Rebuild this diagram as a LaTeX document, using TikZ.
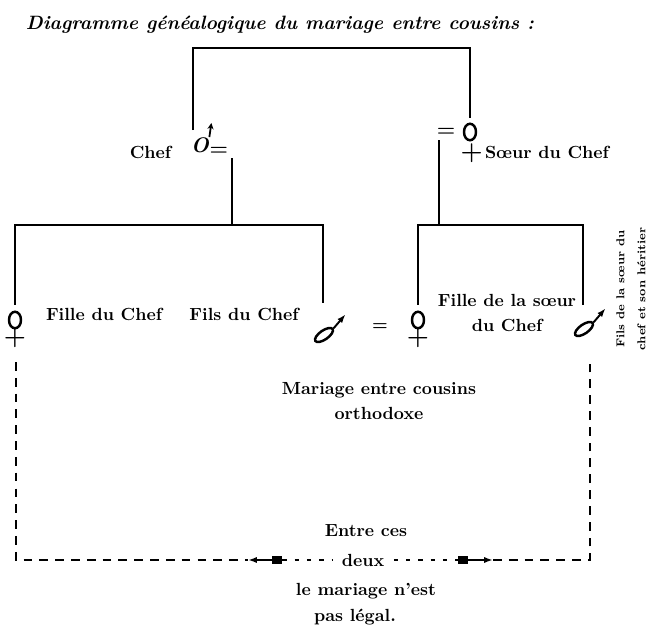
\documentclass[tikz,border=0pt]{standalone}
\usetikzlibrary{arrows.meta, positioning, shapes.geometric}

\begin{document}
\begin{tikzpicture}[
    x=0.02cm, y=-0.02cm,
    lbl/.style={font=\bfseries, inner sep=1pt, align=center},
    title/.style={font=\bfseries\itshape\fontsize{11}{13}\selectfont, inner sep=0pt},
    kin/.style={line width=1.1pt},
    fem/.style={draw, ellipse, line width=1.4pt, inner sep=0pt,
    minimum width=0.24cm, minimum height=0.33cm},
    plus/.style={font=\bfseries\Large, inner sep=0pt},
    male/.style={draw, ellipse, line width=1.4pt, inner sep=0pt,
    minimum width=0.42cm, minimum height=0.18cm, rotate=35},
    stem/.style={line width=1.1pt, -{Latex[length=5pt, width=3.5pt]}},
    eq/.style={font=\bfseries\large, inner sep=0pt},
    lim/.style={line width=1.1pt, dash pattern=on 5pt off 4pt},
    dots/.style={line width=1.1pt, dash pattern=on 2.5pt off 4.5pt},
    stop/.style={fill, inner sep=0pt, minimum width=0.2cm, minimum height=0.16cm}
    ]
    \useasboundingbox (0,0) rectangle (650,629);

    \node[title]  (head)  at (280,25)   {Diagramme généalogique du mariage entre cousins :};

    % generation 1
    \node[eq, font=\bfseries\itshape\large] (chef) at (200,145) {O};
    \node[eq]     (chefeq)  [right=0pt of chef, yshift=-0.12cm]  {=};
    \node[lbl]    (chefl)   [left=0.35cm of chef, yshift=-0.15cm] {Chef};
    \node[fem]    (soeur)   at (470,132)  {};
    \node[eq]     (soeureq) [left=0.14cm of soeur]             {=};
    \node[plus]   (soeurp)  [below=0.04cm of soeur, xshift=1pt] {+};
    \node[lbl, anchor=west] (soeurl) at (483,152) {Sœur du Chef};
    \draw[-{Stealth[length=3.5pt, width=3.5pt]}, line width=1pt]
    (chef.north east) -- ++(2,-14);

    % generation 2
    \node[fem]    (f1)   at (15,320)   {};
    \node[plus]   (f1p)  [below=-0.02cm of f1]   {+};
    \node[male]   (m1)   at (324,335)  {};
    \node[fem]    (f2)   at (418,320)  {};
    \node[plus]   (f2p)  [below=-0.02cm of f2]   {+};
    \node[male]   (m2)   at (584,329)  {};
    \node[eq, font=\bfseries] (wed) at (380,327) {=};

    \node[lbl]    (f1l)  at (104,314)  {Fille du Chef};
    \node[lbl]    (m1l)  at (244,314)  {Fils du Chef};
    \node[lbl, font=\bfseries\linespread{1.15}\selectfont] (f2l) at (507,313)
    {Fille de la sœur\\du Chef};
    \node[lbl, rotate=90, font=\bfseries\fontsize{6.5}{12}\selectfont] (m2l) at (631,289)
    {Fils de la sœur du\\chef et son héritier};

    \draw[stem] (m1.east) -- ++(12,-14);
    \draw[stem] (m2.east) -- ++(12,-14);

    % lines of descent
    \coordinate (top)   at (331,48);
    \coordinate (up1)   at (193,130);
    \coordinate (up2)   at (470,118);
    \coordinate (c1)    at (232,158);
    \coordinate (c2)    at (439,140);
    \coordinate (sib1)  at (232,225);
    \coordinate (sib2)  at (439,225);
    \coordinate (m1up)  at (323,303);
    \coordinate (m2up)  at (583,305);

    \draw[kin] (up1) |- (top) -| (up2);
    \draw[kin] (c1) -- (sib1);
    \draw[kin] (c2) -- (sib2);
    \draw[kin] ([yshift=0.12cm]f1.north) |- (sib1) -| (m1up);
    \draw[kin] ([yshift=0.12cm]f2.north) |- (sib2) -| (m2up);

    % marriage
    \node[lbl, font=\bfseries\linespread{1.2}\selectfont] (ortho) at (379,401)
    {Mariage entre cousins\\orthodoxe};

    \node[lbl]  (deux) at (363,560)  {deux};
    \node[lbl]  (ces)  at (366,531)  {Entre ces};
    \node[lbl]  (pas)  at (366,591)  {le mariage n'est};
    \node[lbl]  (leg)  at (355,617)  {pas légal.};

    \node[stop] (sl) at (277,560) {};
    \node[stop] (sr) at (463,560) {};
    \coordinate (tl) at (248,560);
    \coordinate (tr) at (493,560);
    \coordinate (d1) at (16,362);
    \coordinate (d2) at (590,362);

    \draw[lim] (d1) |- (tl);
    \draw[lim] (tr) -| (d2);
    \draw[stem] (sl) -- (tl);
    \draw[stem] (sr) -- (tr);
    \draw[dots] (sl) -- ([xshift=-0.15cm]deux.west);
    \draw[dots] ([xshift=0.15cm]deux.east) -- (sr);
  \end{tikzpicture}
\end{document}
